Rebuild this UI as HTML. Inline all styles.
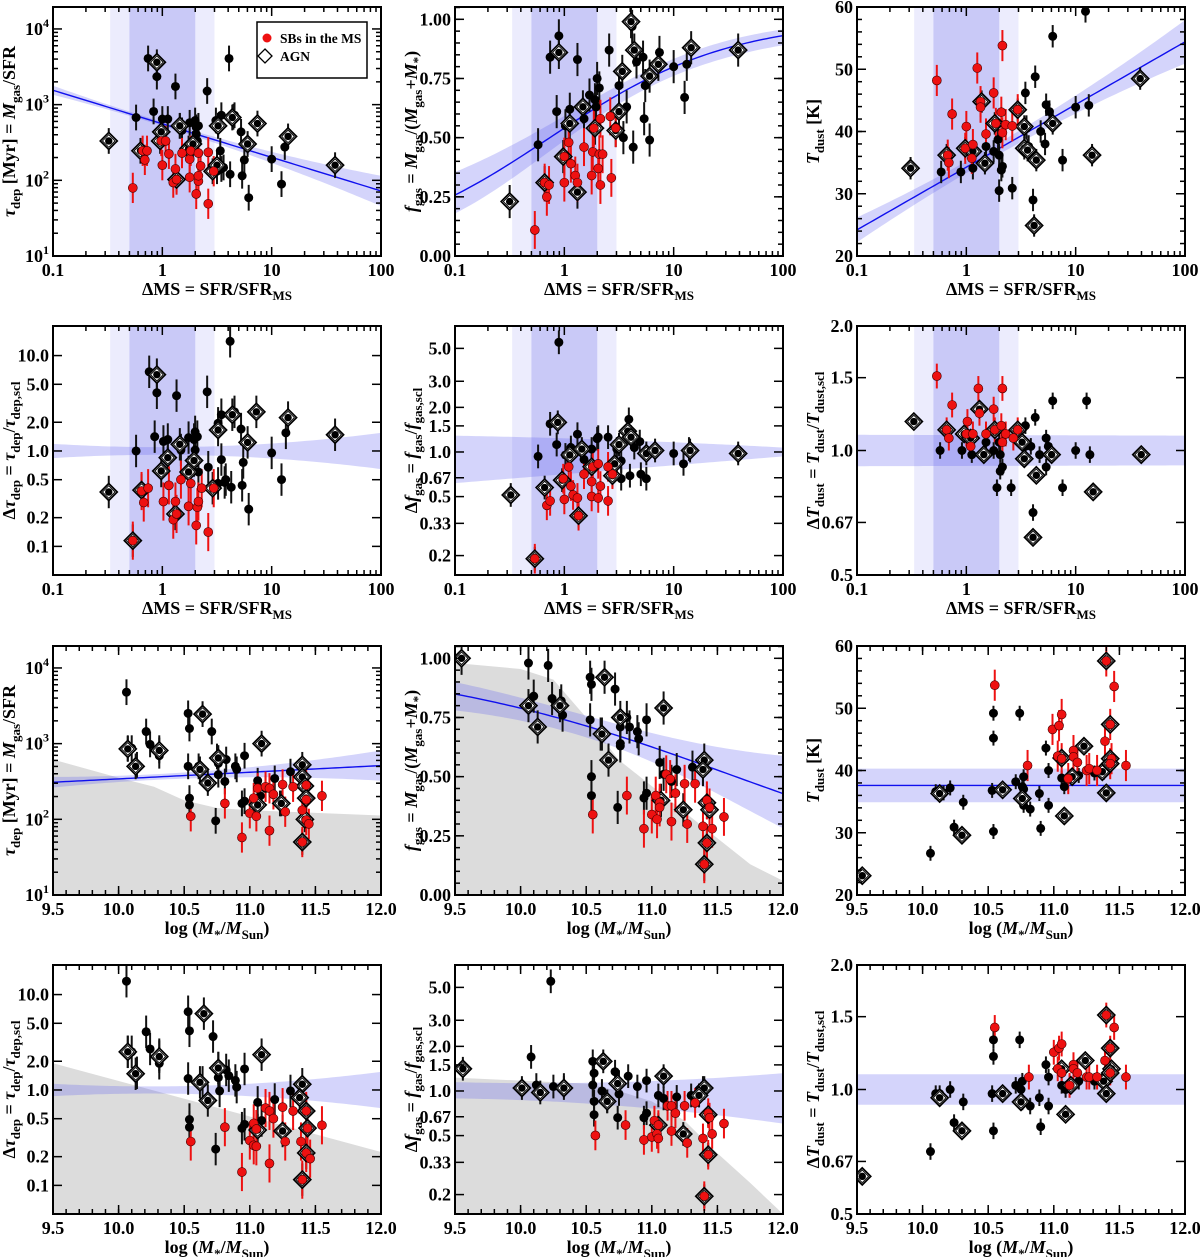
<!DOCTYPE html>
<html><head><meta charset="utf-8">
<style>
html,body{margin:0;padding:0;background:#fff;}
svg{display:block;font-family:"Liberation Serif",serif;font-weight:bold;}
</style></head>
<body>
<svg id="fig" width="1200" height="1257" viewBox="0 0 1200 1257" xmlns="http://www.w3.org/2000/svg"></svg>
<script>
// ===== DATA (log10 values on log axes, linear values elsewhere) =====
const msBandOuter=[1/3,3];
const msBandInner=[0.5,2];
const p1Black=[[-0.13,3.61],[-0.05,3.37],[-0.08,2.91],[-0.24,2.83],[0,2.81],[0.05,2.81],[0.12,3.24],[0.16,2.72],[0.18,2.66],[0.25,2.76],[0.30,2.79],[0.31,2.70],[0.32,2.52],[0.31,2.61],[0.33,2.72],[0.41,3.18],[0.49,2.79],[0.51,2.72],[0.54,2.86],[0.53,2.39],[0.54,2.15],[0.50,2.12],[0.56,2.17],[0.62,2.08],[0.61,3.61],[0.65,2.84],[0.66,2.86],[0.72,2.64],[0.73,2.06],[0.75,2.27],[0.79,1.77],[1.00,2.28],[1.09,1.95],[1.12,2.44]];
const p1Agn=[[-0.49,2.52],[-0.20,2.39],[-0.05,3.56],[-0.02,2.52],[-0.01,2.64],[0.16,2.72],[0.13,2.01],[0.24,2.42],[0.28,2.48],[0.46,2.12],[0.50,2.20],[0.51,2.72],[0.64,2.83],[0.78,2.48],[0.87,2.75],[1.15,2.58],[1.58,2.20]];
const p1Red=[[-0.27,1.90],[-0.18,2.39],[-0.16,2.27],[-0.14,2.39],[-0.01,2.52],[0,2.20],[0.03,2.52],[0.06,2.35],[0.10,1.97],[0.12,2.15],[0.13,2.01],[0.18,2.36],[0.25,2.04],[0.25,2.28],[0.26,2.39],[0.31,1.82],[0.33,1.99],[0.33,2.06],[0.33,2.36],[0.35,2.19],[0.42,2.37],[0.42,1.69],[0.47,2.12]];
const p2Black=[[-0.13,0.84],[-0.05,0.93],[-0.07,0.61],[0.12,0.83],[0.05,0.62],[0.01,0.55],[0.18,0.58],[0.23,0.68],[0.30,0.75],[0.32,0.71],[0.28,0.66],[0.29,0.63],[0.41,0.87],[0.50,0.72],[0.54,0.50],[0.57,0.63],[0.62,0.97],[0.63,0.46],[0.66,0.82],[0.72,0.84],[0.73,0.58],[0.74,0.72],[0.78,0.49],[0.87,0.86],[1.00,0.80],[1.10,0.67],[1.12,0.81],[-0.24,0.47]];
const p2Agn=[[-0.50,0.23],[-0.18,0.31],[-0.05,0.86],[-0.01,0.42],[0.05,0.56],[0.12,0.27],[0.17,0.63],[0.28,0.54],[0.47,0.53],[0.50,0.61],[0.53,0.78],[0.61,0.99],[0.64,0.87],[0.78,0.76],[0.86,0.81],[1.16,0.88],[1.59,0.87]];
const p2Red=[[-0.27,0.11],[-0.18,0.31],[-0.16,0.25],[-0.14,0.30],[0,0.42],[0,0.31],[0.04,0.48],[0.06,0.39],[0.10,0.34],[0.12,0.31],[0.18,0.46],[0.26,0.44],[0.25,0.34],[0.27,0.54],[0.31,0.37],[0.32,0.43],[0.33,0.30],[0.35,0.43],[0.33,0.58],[0.42,0.59],[0.43,0.33],[0.47,0.54]];
const p3Black=[[-0.23,33.5],[-0.05,33.5],[0.06,34.1],[0.18,37.6],[0.25,36.8],[0.29,38.7],[0.30,36.2],[0.30,30.5],[0.32,33.8],[0.33,34.4],[0.42,30.9],[0.54,46.2],[0.55,40.5],[0.55,40.8],[0.57,37.6],[0.61,29.0],[0.63,48.8],[0.68,40.0],[0.72,38.0],[0.73,44.3],[0.76,43.2],[0.79,55.3],[0.88,35.4],[1.00,43.9],[1.09,59.3],[1.12,44.2]];
const p3Agn=[[-0.51,34.1],[-0.18,36.2],[-0.01,37.3],[0.06,36.8],[0.14,44.8],[0.17,34.9],[0.26,41.3],[0.47,43.5],[0.53,40.8],[0.53,37.3],[0.56,37.0],[0.64,35.4],[0.62,24.9],[0.79,41.3],[1.15,36.2],[1.59,48.5]];
const p3Red=[[-0.27,48.2],[-0.17,36.2],[-0.16,35.0],[-0.13,42.8],[0,40.8],[-0.01,37.3],[0.05,35.7],[0.06,37.9],[0.10,50.2],[0.13,44.8],[0.13,43.9],[0.18,39.6],[0.25,46.2],[0.27,41.3],[0.32,43.1],[0.33,53.8],[0.33,39.8],[0.36,41.1],[0.42,40.9],[0.47,43.5]];
const p4Black=[[-0.12,0.83],[-0.05,0.61],[-0.07,0.15],[-0.24,0],[0.01,0.10],[0.05,0.12],[0.13,0.58],[0.17,0.01],[0.24,0.14],[0.29,0.12],[0.30,0.20],[0.32,0.15],[0.30,0.01],[0.33,-0.22],[0.41,0.62],[0.51,0.29],[0.54,0.38],[0.54,-0.09],[0.57,-0.33],[0.51,-0.34],[0.58,-0.30],[0.63,-0.38],[0.62,1.15],[0.66,0.41],[0.72,0.23],[0.73,-0.36],[0.74,-0.12],[0.79,-0.61],[1.00,-0.02],[1.09,-0.30],[1.13,0.19],[0.42,-0.17]];
const p4Agn=[[-0.49,-0.43],[-0.27,-0.94],[-0.19,-0.41],[-0.05,0.80],[-0.01,-0.21],[0.05,-0.07],[0.12,-0.66],[0.16,0.07],[0.29,-0.10],[0.24,-0.22],[0.46,-0.39],[0.51,0.22],[0.64,0.38],[0.78,0.09],[0.86,0.41],[1.15,0.35],[1.58,0.17]];
const p4Red=[[-0.27,-0.94],[-0.19,-0.42],[-0.17,-0.54],[-0.13,-0.39],[0.01,-0.53],[0.06,-0.36],[0.10,-0.72],[0.12,-0.53],[0.13,-0.66],[0.17,-0.30],[0.24,-0.58],[0.26,-0.34],[0.31,-0.78],[0.32,-0.59],[0.33,-0.53],[0.36,-0.39],[0.42,-0.85],[0.47,-0.39]];
const p5Black=[[-0.24,-0.03],[-0.07,0.05],[-0.13,0.19],[-0.05,0.74],[0.01,-0.02],[0.06,0.03],[0.12,0.12],[0.18,-0.05],[0.25,0.02],[0.30,0.09],[0.59,0.22],[0.58,0.14],[0.48,-0.07],[0.52,-0.18],[0.60,-0.16],[0.64,0.03],[0.69,0.07],[0.70,-0.15],[0.75,-0.18],[0.48,0.02],[0.52,-0.06],[0.40,0.10],[0.31,0.10],[1.00,-0.01],[1.09,-0.08],[1.14,0.02]];
const p5Agn=[[-0.49,-0.29],[-0.27,-0.72],[-0.18,-0.24],[-0.06,0.20],[-0.02,-0.19],[0.05,-0.02],[0.13,-0.43],[0.16,0.02],[0.25,-0.10],[0.58,0.14],[0.61,0.10],[0.50,0.05],[0.44,-0.16],[0.46,-0.08],[0.75,-0.01],[0.83,0.01],[1.15,0.01],[1.59,-0.01]];
const p5Red=[[-0.27,-0.72],[-0.16,-0.36],[-0.13,-0.33],[-0.01,-0.18],[0,-0.32],[0.04,-0.10],[0.06,-0.23],[0.08,-0.29],[0.13,-0.43],[0.12,-0.31],[0.18,-0.15],[0.25,-0.20],[0.26,-0.10],[0.25,-0.30],[0.31,-0.08],[0.33,-0.23],[0.31,-0.31],[0.40,-0.10],[0.40,-0.33],[0.44,-0.15]];
const p6Black=[[-0.24,0],[-0.04,0],[0.05,-0.01],[0.18,0.02],[0.25,0],[0.28,-0.09],[0.31,-0.01],[0.30,0.02],[0.31,-0.05],[0.33,-0.04],[0.41,-0.09],[0.54,0.06],[0.54,0.01],[0.59,0.01],[0.61,-0.15],[0.63,0.08],[0.67,-0.01],[0.73,-0.04],[0.73,0.03],[0.75,0.01],[0.79,0.12],[0.88,-0.09],[1.00,0],[1.10,0.12],[1.13,-0.01]];
const p6Agn=[[-0.48,0.07],[-0.18,0.05],[-0.02,0.04],[0.04,0.03],[0.12,0.10],[0.16,-0.01],[0.26,0.05],[0.47,0.05],[0.51,0.02],[0.53,-0.02],[0.64,-0.06],[0.61,-0.21],[0.78,-0.01],[1.16,-0.10],[1.60,-0.01]];
const p6Red=[[-0.27,0.18],[-0.18,0.05],[-0.16,0.03],[-0.13,0.11],[0.01,0.07],[0,0.04],[0.04,0.01],[0.06,0.04],[0.11,0.15],[0.12,0.09],[0.18,0.04],[0.25,0.10],[0.26,0.05],[0.32,0.06],[0.33,0.15],[0.33,0.02],[0.36,0.04],[0.43,0.03],[0.47,0.05]];
const p7Black=[[10.06,3.68],[10.07,2.94],[10.10,2.94],[10.14,2.72],[10.21,3.16],[10.24,2.99],[10.31,2.94],[10.31,2.84],[10.53,3.40],[10.54,3.20],[10.53,2.70],[10.54,2.28],[10.54,2.19],[10.61,2.70],[10.71,3.16],[10.74,1.98],[10.75,2.83],[10.76,2.74],[10.76,2.59],[10.81,2.50],[10.82,2.79],[10.89,2.70],[10.90,2.66],[10.94,2.21],[10.96,2.84],[10.96,2.24],[11.06,2.51],[11.08,2.31],[11.12,2.41],[11.19,2.54],[11.23,2.21],[11.31,2.63],[11.39,2.58]];
const p7Agn=[[10.07,2.93],[10.13,2.70],[10.31,2.91],[10.64,3.39],[10.62,2.66],[10.68,2.48],[10.76,2.81],[11.09,3.00],[11.06,2.19],[11.24,2.21],[11.40,2.72],[11.40,2.56],[11.42,2.44],[11.43,2.28],[11.42,2.00],[11.40,1.70]];
const p7Red=[[10.55,2.04],[10.81,2.21],[10.94,1.76],[11.00,2.08],[11.03,2.28],[11.05,2.04],[11.06,2.41],[11.12,2.43],[11.15,1.85],[11.15,2.41],[11.18,2.33],[11.25,2.46],[11.27,2.10],[11.33,2.43],[11.40,2.12],[11.40,1.70],[11.43,2.45],[11.43,2.26],[11.43,1.99],[11.45,1.94],[11.55,2.31]];
const p8Black=[[10.06,0.98],[10.21,0.97],[10.10,0.84],[10.24,0.83],[10.31,0.82],[10.32,0.76],[10.53,0.92],[10.54,0.89],[10.53,0.74],[10.54,0.50],[10.54,0.42],[10.61,0.68],[10.72,0.87],[10.74,0.37],[10.76,0.71],[10.76,0.64],[10.76,0.63],[10.81,0.75],[10.83,0.71],[10.89,0.69],[10.90,0.66],[10.94,0.41],[10.96,0.43],[10.96,0.74],[11.06,0.56],[11.09,0.51],[11.15,0.48],[11.19,0.53],[11.31,0.54],[11.39,0.53]];
const p8Agn=[[9.55,1.00],[10.06,0.80],[10.13,0.71],[10.30,0.80],[10.64,0.92],[10.62,0.68],[10.67,0.57],[10.76,0.75],[11.09,0.79],[11.07,0.40],[11.24,0.36],[11.40,0.57],[11.39,0.53],[11.42,0.39],[11.44,0.36],[11.42,0.22],[11.40,0.13]];
const p8Red=[[10.55,0.34],[10.81,0.42],[10.94,0.28],[11.00,0.34],[11.03,0.42],[11.04,0.32],[11.06,0.39],[11.06,0.37],[11.11,0.51],[11.14,0.49],[11.15,0.31],[11.18,0.43],[11.25,0.47],[11.27,0.30],[11.33,0.47],[11.39,0.29],[11.42,0.40],[11.44,0.37],[11.46,0.28],[11.55,0.33],[11.42,0.22],[11.40,0.13]];
const p9Black=[[10.06,26.7],[10.10,36.6],[10.16,36.4],[10.21,37.2],[10.24,30.9],[10.31,34.9],[10.53,36.8],[10.54,30.2],[10.54,45.2],[10.54,49.2],[10.71,38.2],[10.74,49.2],[10.77,39.0],[10.76,37.4],[10.77,37.0],[10.77,34.4],[10.82,33.8],[10.89,36.3],[10.90,30.7],[10.94,43.6],[10.96,40.0],[10.96,34.4],[11.06,38.8],[11.08,37.4],[11.19,39.2],[11.31,39.6],[11.38,39.7]];
const p9Agn=[[9.54,23.1],[10.13,36.3],[10.30,29.6],[10.61,36.9],[10.76,35.5],[11.06,42.0],[11.08,32.7],[11.14,39.0],[11.23,43.9],[11.37,39.8],[11.40,36.4],[11.40,57.6],[11.43,47.4],[11.43,41.9],[11.43,41.1]];
const p9Red=[[10.55,53.7],[10.80,40.8],[10.99,46.6],[11.03,42.3],[11.04,47.2],[11.06,49.0],[11.06,41.9],[11.11,38.7],[11.15,43.2],[11.15,42.2],[11.18,41.3],[11.25,40.0],[11.27,40.3],[11.33,40.0],[11.39,44.7],[11.40,57.6],[11.46,53.5],[11.43,47.4],[11.44,41.9],[11.43,41.1],[11.55,40.8]];
const p10Black=[[10.06,1.14],[10.07,0.40],[10.10,0.40],[10.14,0.18],[10.21,0.61],[10.24,0.43],[10.31,0.37],[10.31,0.28],[10.53,0.82],[10.54,0.62],[10.53,0.12],[10.54,-0.31],[10.54,-0.39],[10.64,0.08],[10.72,0.56],[10.74,-0.62],[10.76,0.23],[10.76,0.13],[10.77,-0.01],[10.82,0.21],[10.84,0.15],[10.89,0.10],[10.90,0.03],[10.96,0.22],[10.94,-0.40],[10.96,-0.36],[11.06,-0.13],[11.09,-0.32],[11.19,-0.10],[11.31,-0.01]];
const p10Agn=[[10.07,0.40],[10.13,0.17],[10.31,0.35],[10.65,0.80],[10.62,0.08],[10.68,-0.11],[10.76,0.23],[11.09,0.37],[11.06,-0.42],[11.25,-0.43],[11.40,0.06],[11.38,-0.08],[11.43,-0.22],[11.44,-0.40],[11.43,-0.66],[11.40,-0.94]];
const p10Red=[[10.55,-0.54],[10.81,-0.39],[10.94,-0.86],[11.00,-0.53],[11.03,-0.35],[11.03,-0.58],[11.05,-0.41],[11.05,-0.59],[11.12,-0.19],[11.15,-0.22],[11.15,-0.77],[11.18,-0.30],[11.25,-0.18],[11.27,-0.54],[11.33,-0.22],[11.39,-0.54],[11.40,-0.94],[11.43,-0.22],[11.44,-0.40],[11.43,-0.66],[11.46,-0.72],[11.55,-0.37]];
const p11Black=[[10.08,0.23],[10.23,0.74],[10.12,0.04],[10.25,0.03],[10.33,0.04],[10.55,0.20],[10.56,0.12],[10.55,0.04],[10.56,-0.07],[10.56,-0.16],[10.62,0],[10.72,0.13],[10.75,0.06],[10.82,0.10],[10.75,-0.02],[10.74,-0.18],[10.89,0.03],[10.96,0.07],[10.94,-0.18],[10.96,-0.15],[11.05,-0.03],[11.09,-0.05],[11.19,-0.04],[11.30,-0.03],[11.39,0.02],[11.36,-0.03],[10.66,-0.07]];
const p11Agn=[[9.56,0.15],[10.01,0.02],[10.15,-0.01],[10.33,0.02],[10.63,0.20],[10.74,0.05],[10.66,-0.07],[11.09,0.10],[11.05,-0.23],[11.24,-0.29],[11.40,0.02],[11.36,-0.03],[11.43,-0.16],[11.43,-0.43],[11.40,-0.71]];
const p11Red=[[10.57,-0.30],[10.80,-0.23],[10.94,-0.33],[11.00,-0.31],[11.02,-0.20],[11.05,-0.23],[11.04,-0.29],[11.05,-0.32],[11.12,-0.10],[11.15,-0.10],[11.15,-0.27],[11.18,-0.15],[11.25,-0.10],[11.27,-0.35],[11.33,-0.08],[11.39,-0.32],[11.40,-0.71],[11.43,-0.15],[11.44,-0.18],[11.43,-0.43],[11.46,-0.29],[11.55,-0.22]];
const p12Black=[[10.06,-0.15],[10.10,-0.01],[10.13,-0.01],[10.21,0],[10.24,-0.08],[10.31,-0.03],[10.53,-0.01],[10.54,-0.10],[10.54,0.08],[10.54,0.12],[10.71,0.01],[10.74,0.12],[10.75,0],[10.76,0.02],[10.76,-0.03],[10.82,-0.04],[10.89,-0.02],[10.90,-0.09],[10.94,0.06],[10.96,0.03],[10.96,-0.04],[11.06,0.01],[11.09,0],[11.19,0.02],[11.31,0.02],[11.38,0.02]];
const p12Agn=[[9.54,-0.21],[10.13,-0.02],[10.30,-0.10],[10.61,-0.01],[10.75,-0.03],[11.06,0.05],[11.09,-0.06],[11.13,0.01],[11.24,0.07],[11.38,0.02],[11.40,-0.01],[11.40,0.18],[11.43,0.10],[11.44,0.05],[11.43,0.04]];
const p12Red=[[10.55,0.15],[10.81,0.03],[11.00,0.09],[11.03,0.05],[11.04,0.10],[11.06,0.11],[11.06,0.04],[11.12,0.01],[11.15,0.06],[11.15,0.05],[11.18,0.04],[11.25,0.03],[11.27,0.03],[11.33,0.03],[11.39,0.07],[11.40,0.18],[11.46,0.15],[11.43,0.10],[11.43,0.04],[11.55,0.03]];
const p1FitC=[3.19,2.525,1.86], p1FitW=[0.06,0.04,0.2];
const p2FitC=[-0.46,0.335,1.13], p2FitW=[0.2,0.08,0.22];
const p3FitC=[24.2,39.3,54.4], p3FitW=[2,1,3.5];
const p4FitC=[0,0,0], p4FitW=[0.075,0.05,0.19];
const p5FitC=[-0.05,-0.02,0], p5FitW=[0.16,0.1,0.03];
const p6FitC=[0,0,0], p6FitW=[0.038,0.037,0.036];
const p7FitC=[2.49,2.60,2.71], p7FitW=[0.07,0.05,0.2];
const p8FitC=[0.75,0.31,-0.125], p8FitW=[0.2,0.1,0.28];
const p9FitC=[37.6,37.6,37.6], p9FitW=[2.7,2.7,2.7];
const p10FitC=[0,0,0], p10FitW=[0.065,0.05,0.19];
const p11FitC=[0.005,-0.02,-0.05], p11FitW=[0.055,0.08,0.17];
const p12FitC=[0,0,0], p12FitW=[0.037,0.037,0.037];
const p7GreyX=[9.5,10,10.27,10.5,10.75,11,12], p7GreyY=[2.79,2.55,2.43,2.25,2.15,2.12,2.05];
const p8GreyX=[9.5,10,10.25,10.5,10.75,11,11.25,11.5,11.75,12], p8GreyY=[0.98,0.955,0.91,0.75,0.57,0.46,0.35,0.24,0.13,0.06];
const p10GreyX=[9.5,12], p10GreyY=[0.28,-0.65];
const p11GreyX=[9.5,10.5,10.75,11,11.25,11.5,11.75,12], p11GreyY=[0.09,0.05,0,-0.07,-0.2,-0.42,-0.62,-0.83];

// ===== RENDERING =====
const NS="http://www.w3.org/2000/svg";
const svg=document.getElementById('fig');
function el(tag,attrs,parent){const e=document.createElementNS(NS,tag);for(const k in attrs)e.setAttribute(k,attrs[k]);(parent||svg).appendChild(e);return e;}
const L10=Math.log10;
function range(a,b,s){const r=[];for(let v=a;v<=b+1e-9;v+=s)r.push(+v.toFixed(4));return r;}
const dmsX={min:-1,max:2,majors:[-1,0,1,2],labels:['0.1','1','10','100'],minors:[].concat(...[-1,0,1].map(d=>[2,3,4,5,6,7,8,9].map(k=>d+L10(k))))};
const massX={min:9.5,max:12,majors:range(9.5,12,0.5),labels:range(9.5,12,0.5).map(v=>v.toFixed(1)),minors:range(9.5,12,0.1)};
const tauY={min:1,max:4.29,majors:[1,2,3,4],labels:['1','2','3','4'],sup:true,minors:[].concat(...[1,2,3,4].map(d=>[2,3,4,5,6,7,8,9].map(k=>d+L10(k)))).filter(v=>v<4.29)};
const fgasY={min:0,max:1.052,majors:[0,0.25,0.5,0.75,1],labels:['0.00','0.25','0.50','0.75','1.00'],minors:range(0,1.05,0.05)};
const tY={min:20,max:60,majors:[20,30,40,50,60],labels:['20','30','40','50','60'],minors:range(20,60,2)};
const dtauV=[0.1,0.2,0.5,1,2,5,10];
const dtauY={min:-1.3,max:1.31,majors:dtauV.map(L10),labels:['0.1','0.2','0.5','1.0','2.0','5.0','10.0'],minors:[]};
const dfV=[0.2,0.33,0.5,0.67,1,1.5,2,3,5];
const dfY={min:-0.83,max:0.85,majors:dfV.map(L10),labels:['0.2','0.33','0.5','0.67','1.0','1.5','2.0','3.0','5.0'],minors:[]};
const dTV=[0.5,0.67,1,1.5,2];
const dTY={min:-0.301,max:0.301,majors:dTV.map(L10),labels:['0.5','0.67','1.0','1.5','2.0'],minors:[]};

const S='<tspan font-size="13" dy="5">', E='</tspan><tspan dy="-5">';
const I=s=>'<tspan font-style="italic">'+s+'</tspan>';
const T_TAU=I('τ')+S+'dep'+E+' [Myr] = </tspan>'+I('M')+S+'gas'+E+'/SFR</tspan>';
const T_FG=I('f')+S+'gas'+E+' = </tspan>'+I('M')+S+'gas'+E+'/(</tspan>'+I('M')+S+'gas'+E+'+</tspan>'+I('M')+S+'*'+E+')</tspan>';
const T_T=I('T')+S+'dust'+E+' [K]</tspan>';
const T_DTAU='Δ'+I('τ')+S+'dep'+E+' = </tspan>'+I('τ')+S+'dep'+E+'/</tspan>'+I('τ')+S+'dep,scl'+E+'</tspan>';
const T_DFG='Δ'+I('f')+S+'gas'+E+' = </tspan>'+I('f')+S+'gas'+E+'/</tspan>'+I('f')+S+'gas,scl'+E+'</tspan>';
const T_DT='Δ'+I('T')+S+'dust'+E+' = </tspan>'+I('T')+S+'dust'+E+'/</tspan>'+I('T')+S+'dust,scl'+E+'</tspan>';
const X_DMS='ΔMS = SFR/SFR'+S+'MS'+E+'</tspan>';
const X_M='log ('+I('M')+S+'*'+E+'/</tspan>'+I('M')+S+'Sun'+E+')</tspan>';

const COLS=[53,455,857], ROWS=[7,326,646,965], W=328, H=249;
const panels=[
 {n:1,c:0,r:0,x:dmsX,y:tauY,bk:p1Black,ag:p1Agn,rd:p1Red,fc:p1FitC,fw:p1FitW,line:true,vb:true,yt:T_TAU,xt:X_DMS,eb:0.17,er:0.2,legend:true},
 {n:2,c:1,r:0,x:dmsX,y:fgasY,bk:p2Black,ag:p2Agn,rd:p2Red,fc:p2FitC,fw:p2FitW,line:true,vb:true,logit:true,yt:T_FG,xt:X_DMS,eb:0.07,er:0.08},
 {n:3,c:2,r:0,x:dmsX,y:tY,bk:p3Black,ag:p3Agn,rd:p3Red,fc:p3FitC,fw:p3FitW,line:true,vb:true,yt:T_T,xt:X_DMS,eb:1.8,er:2.5},
 {n:4,c:0,r:1,x:dmsX,y:dtauY,bk:p4Black,ag:p4Agn,rd:p4Red,fc:p4FitC,fw:p4FitW,vb:true,yt:T_DTAU,xt:X_DMS,eb:0.17,er:0.2},
 {n:5,c:1,r:1,x:dmsX,y:dfY,bk:p5Black,ag:p5Agn,rd:p5Red,fc:p5FitC,fw:p5FitW,vb:true,yt:T_DFG,xt:X_DMS,eb:0.08,er:0.1},
 {n:6,c:2,r:1,x:dmsX,y:dTY,bk:p6Black,ag:p6Agn,rd:p6Red,fc:p6FitC,fw:p6FitW,vb:true,yt:T_DT,xt:X_DMS,eb:0.02,er:0.03},
 {n:7,c:0,r:2,x:massX,y:tauY,bk:p7Black,ag:p7Agn,rd:p7Red,fc:p7FitC,fw:p7FitW,line:true,gx:p7GreyX,gy:p7GreyY,yt:T_TAU,xt:X_M,eb:0.17,er:0.2},
 {n:8,c:1,r:2,x:massX,y:fgasY,bk:p8Black,ag:p8Agn,rd:p8Red,fc:p8FitC,fw:p8FitW,line:true,logit:true,gx:p8GreyX,gy:p8GreyY,yt:T_FG,xt:X_M,eb:0.07,er:0.08},
 {n:9,c:2,r:2,x:massX,y:tY,bk:p9Black,ag:p9Agn,rd:p9Red,fc:p9FitC,fw:p9FitW,line:true,yt:T_T,xt:X_M,eb:1.2,er:2.5},
 {n:10,c:0,r:3,x:massX,y:dtauY,bk:p10Black,ag:p10Agn,rd:p10Red,fc:p10FitC,fw:p10FitW,gx:p10GreyX,gy:p10GreyY,yt:T_DTAU,xt:X_M,eb:0.17,er:0.2},
 {n:11,c:1,r:3,x:massX,y:dfY,bk:p11Black,ag:p11Agn,rd:p11Red,fc:p11FitC,fw:p11FitW,gx:p11GreyX,gy:p11GreyY,yt:T_DFG,xt:X_M,eb:0.08,er:0.1},
 {n:12,c:2,r:3,x:massX,y:dTY,bk:p12Black,ag:p12Agn,rd:p12Red,fc:p12FitC,fw:p12FitW,yt:T_DT,xt:X_M,eb:0.02,er:0.03}
];
function quad(p,x0,x2,x){const t=(x-x0)/(x2-x0)*2;const a=p[0],b=p[1],c=p[2];return a*(1-t)*(2-t)/2+b*t*(2-t)+c*t*(t-1)/2;}

panels.forEach(P=>{
 const x0=COLS[P.c], y0=ROWS[P.r];
 const X=v=>x0+(v-P.x.min)/(P.x.max-P.x.min)*W;
 const Y=v=>y0+H-(v-P.y.min)/(P.y.max-P.y.min)*H;
 const g=el('g',{});
 
 
 const cp=el('clipPath',{id:'cp'+P.n},g); el('rect',{x:x0,y:y0,width:W,height:H},cp);
 const inner=el('g',{'clip-path':'url(#cp'+P.n+')'},g);
 if(P.vb){
  const o=el('rect',{x:X(L10(msBandOuter[0])),y:y0,width:X(L10(msBandOuter[1]))-X(L10(msBandOuter[0])),height:H,fill:'#ececfd'},inner);
  
  const i=el('rect',{x:X(L10(msBandInner[0])),y:y0,width:X(L10(msBandInner[1]))-X(L10(msBandInner[0])),height:H,fill:'#c9c9f7'},inner);
  
 }
 if(P.gx){
  let d='M'+X(P.gx[0])+','+(y0+H);
  P.gx.forEach((gx,k)=>{d+=' L'+X(gx)+','+Y(P.gy[k]);});
  d+=' L'+X(P.gx[P.gx.length-1])+','+(y0+H)+' Z';
  const gr=el('path',{d:d,fill:'#dcdcdc'},inner);
  
 }
 const tr=v=>P.logit?1/(1+Math.pow(10,-v)):v;
 const xs=[];for(let k=0;k<=80;k++)xs.push(P.x.min+(P.x.max-P.x.min)*k/80);
 const up=xs.map(x=>[X(x),Y(tr(quad(P.fc,P.x.min,P.x.max,x)+quad(P.fw,P.x.min,P.x.max,x)))]);
 const lo=xs.map(x=>[X(x),Y(tr(quad(P.fc,P.x.min,P.x.max,x)-quad(P.fw,P.x.min,P.x.max,x)))]).reverse();
 const band=el('path',{d:'M'+up.concat(lo).map(p=>p.join(',')).join(' L')+' Z',fill:'rgb(100,100,240)','fill-opacity':0.28},inner);
 
 if(P.line){
  const ln=el('path',{d:'M'+xs.map(x=>X(x)+','+Y(tr(quad(P.fc,P.x.min,P.x.max,x)))).join(' L'),fill:'none',stroke:'#1010ee','stroke-width':1.4},inner);
  
 }
 const drawErr=(arr,e,col)=>arr.forEach(p=>{
  const l=el('line',{x1:X(p[0]),x2:X(p[0]),y1:Y(p[1]-e),y2:Y(p[1]+e),stroke:col,'stroke-width':2},inner);
  
 });
 drawErr(P.bk,P.eb,'#111'); drawErr(P.ag,P.eb,'#111'); drawErr(P.rd,P.er,'#ee1111');
 P.bk.forEach(p=>{const c=el('circle',{cx:X(p[0]),cy:Y(p[1]),r:4.5,fill:'#000'},inner);
  
  });
 P.ag.forEach(p=>{const cx=X(p[0]),cy=Y(p[1]);
  const dm=el('polygon',{points:`${cx},${cy-8.5} ${cx+8.5},${cy} ${cx},${cy+8.5} ${cx-8.5},${cy}`,fill:'#fff',stroke:'#000','stroke-width':1.7},inner);
  
  
  el('polygon',{points:`${cx},${cy-6.3} ${cx+6.3},${cy} ${cx},${cy+6.3} ${cx-6.3},${cy}`,fill:'#fff',stroke:'#000','stroke-width':0.9},inner);
  el('circle',{cx:cx,cy:cy,r:3.7,fill:'#000'},inner);});
 P.rd.forEach(p=>{const c=el('circle',{cx:X(p[0]),cy:Y(p[1]),r:4.5,fill:'#ee1111',stroke:'#400','stroke-width':0.6},inner);
  
  });
 const fr=el('rect',{x:x0,y:y0,width:W,height:H,fill:'none',stroke:'#000','stroke-width':2},g);
 
 const tk=(x1,y1,x2,y2)=>el('line',{x1,y1,x2,y2,stroke:'#000','stroke-width':1.5},g);
 P.x.majors.forEach((v,k)=>{const x=X(v);tk(x,y0+H,x,y0+H-9);tk(x,y0,x,y0+9);
  const t=el('text',{x:x,y:y0+H+20,'text-anchor':'middle','font-size':18},g);t.textContent=P.x.labels[k];
  });
 P.x.minors.forEach(v=>{const x=X(v);tk(x,y0+H,x,y0+H-5);tk(x,y0,x,y0+5);});
 P.y.majors.forEach((v,k)=>{const y=Y(v);tk(x0,y,x0+9,y);tk(x0+W,y,x0+W-9,y);
  const t=el('text',{x:x0-4,y:y+6,'text-anchor':'end','font-size':18},g);
  
  if(P.y.sup){t.innerHTML='10<tspan font-size="12" dy="-8">'+P.y.labels[k]+'</tspan>';}
  else t.textContent=P.y.labels[k];});
 P.y.minors.forEach(v=>{const y=Y(v);tk(x0,y,x0+5,y);tk(x0+W,y,x0+W-5,y);});
 const xt=el('text',{x:x0+W/2,y:y0+H+39,'text-anchor':'middle','font-size':18},g);
 xt.innerHTML=P.xt; 
 const yt=el('text',{transform:`translate(${x0-38},${y0+H/2}) rotate(-90)`,'text-anchor':'middle','font-size':18},g);
 yt.innerHTML=P.yt; 
 if(P.legend){
  const lg=el('g',{},g);
  
  
  el('rect',{x:257,y:22,width:110,height:56,fill:'#fff',stroke:'#000','stroke-width':1.5},lg);
  el('circle',{cx:267,cy:38,r:4.5,fill:'#ee1111'},lg);
  const t1=el('text',{x:280,y:43,'font-size':13.5},lg);t1.textContent='SBs in the MS';
  
  el('polygon',{points:'265,49 272,56 265,63 258,56',fill:'#fff',stroke:'#000','stroke-width':1.3},lg);
  const t2=el('text',{x:280,y:61,'font-size':13.5},lg);t2.textContent='AGN';
  
 }
});
</script>
</body></html>
